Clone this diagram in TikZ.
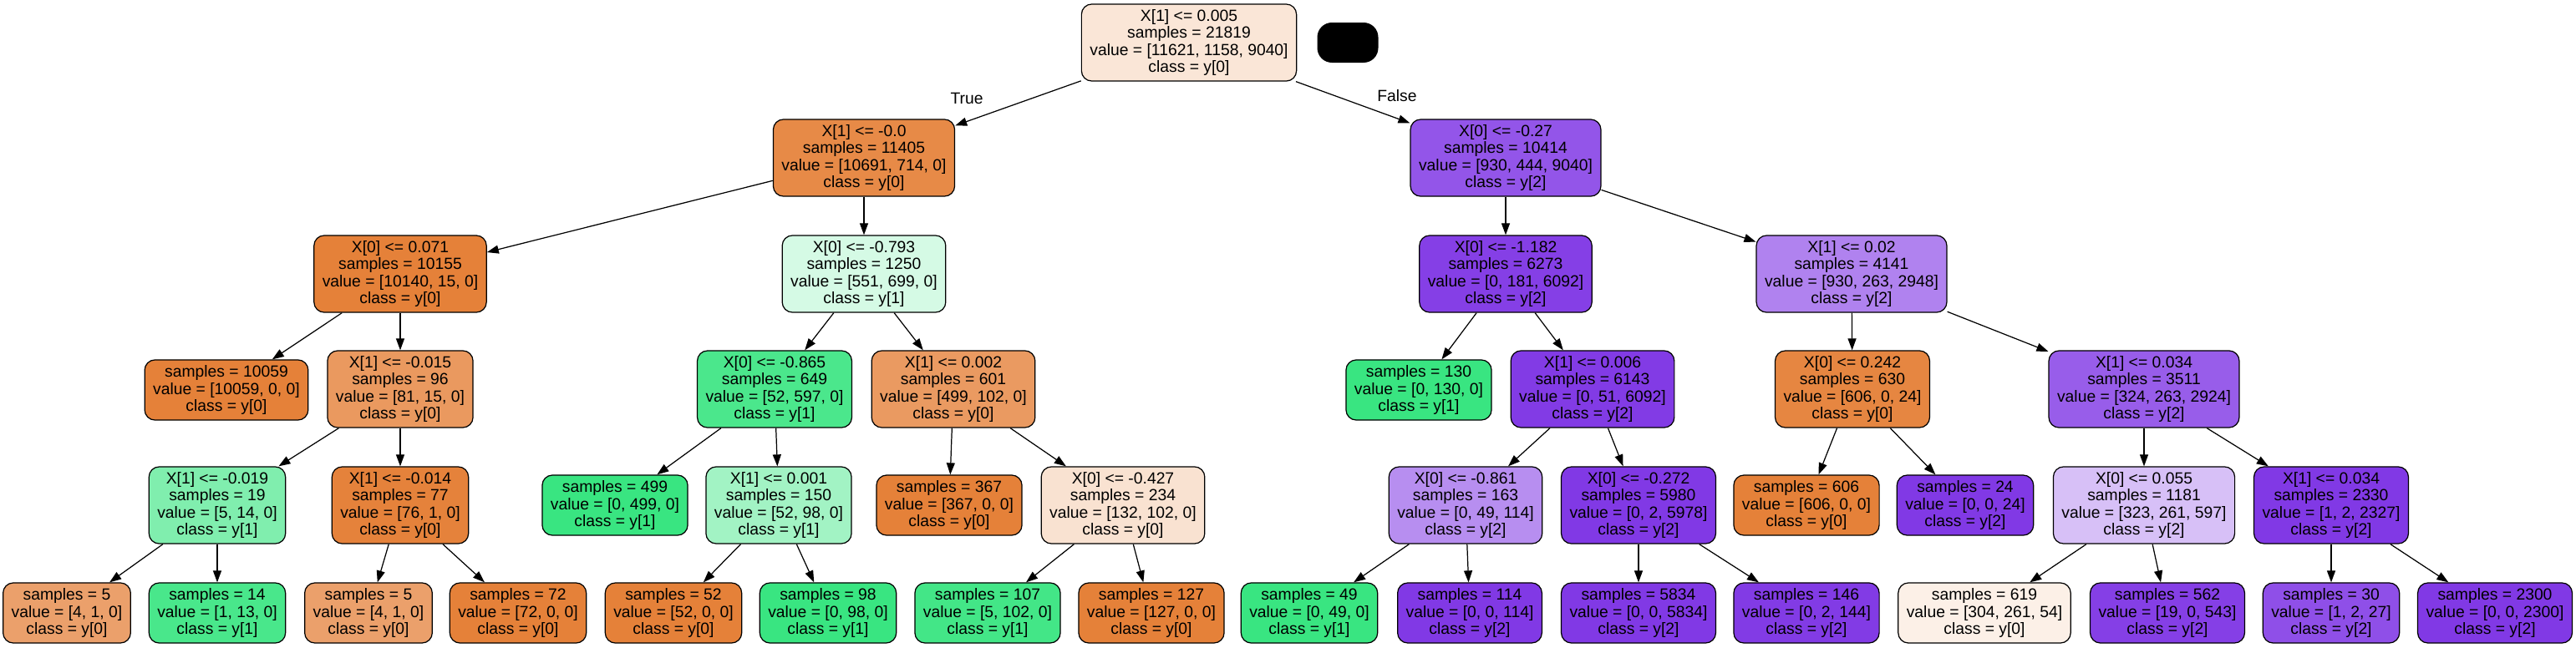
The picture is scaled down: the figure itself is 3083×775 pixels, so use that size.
\documentclass[tikz,border=0pt]{standalone}
\usepackage{fontspec}
\setmainfont{Liberation Sans}
\usepackage{xcolor}
\usetikzlibrary{arrows.meta}
\definecolor{cls0}{HTML}{E58139}
\definecolor{cls1}{HTML}{39E581}
\definecolor{cls2}{HTML}{8139E5}

\tikzset{
  tnode/.style={draw=black, line width=0.7pt, rounded corners=7pt, align=center,
    inner xsep=0.2cm, inner ysep=0.14cm, font=\fontsize{11}{11.4}\selectfont},
  branch/.style={-{Triangle[length=0.28cm,width=0.2cm]}, line width=0.7pt}
}

\begin{document}
\begin{tikzpicture}[x=0.02cm,y=-0.02cm]
  \useasboundingbox (0,0) rectangle (3083,775);
  % root
  \node[tnode, fill=cls0!20] (root) at (1423,51) {X[1] <= 0.005\\samples = 21819\\value = [11621, 1158, 9040]\\class = y[0]};
  \node[fill=black, rounded corners=10pt, minimum width=1.46cm, minimum height=0.96cm] (blank) at (1613,51) {};
  % level 1
  \node[tnode, fill=cls0!93] (t) at (1034,189) {X[1] <= -0.0\\samples = 11405\\value = [10691, 714, 0]\\class = y[0]};
  \node[tnode, fill=cls2!86] (f) at (1802,189) {X[0] <= -0.27\\samples = 10414\\value = [930, 444, 9040]\\class = y[2]};
  % level 2
  \node[tnode, fill=cls0] (tt) at (479,328) {X[0] <= 0.071\\samples = 10155\\value = [10140, 15, 0]\\class = y[0]};
  \node[tnode, fill=cls1!21] (tf) at (1034,328) {X[0] <= -0.793\\samples = 1250\\value = [551, 699, 0]\\class = y[1]};
  \node[tnode, fill=cls2!97] (ft) at (1802,328) {X[0] <= -1.182\\samples = 6273\\value = [0, 181, 6092]\\class = y[2]};
  \node[tnode, fill=cls2!63] (ff) at (2216,328) {X[1] <= 0.02\\samples = 4141\\value = [930, 263, 2948]\\class = y[2]};
  % level 3
  \node[tnode, fill=cls0] (ttt) at (271,467) {samples = 10059\\value = [10059, 0, 0]\\class = y[0]};
  \node[tnode, fill=cls0!81] (ttf) at (479,466) {X[1] <= -0.015\\samples = 96\\value = [81, 15, 0]\\class = y[0]};
  \node[tnode, fill=cls1!91] (tft) at (927,466) {X[0] <= -0.865\\samples = 649\\value = [52, 597, 0]\\class = y[1]};
  \node[tnode, fill=cls0!80] (tff) at (1141,466) {X[1] <= 0.002\\samples = 601\\value = [499, 102, 0]\\class = y[0]};
  \node[tnode, fill=cls1] (ftt) at (1698,467) {samples = 130\\value = [0, 130, 0]\\class = y[1]};
  \node[tnode, fill=cls2!99] (ftf) at (1906,466) {X[1] <= 0.006\\samples = 6143\\value = [0, 51, 6092]\\class = y[2]};
  \node[tnode, fill=cls0!96] (fft) at (2217,466) {X[0] <= 0.242\\samples = 630\\value = [606, 0, 24]\\class = y[0]};
  \node[tnode, fill=cls2!82] (fff) at (2566,466) {X[1] <= 0.034\\samples = 3511\\value = [324, 263, 2924]\\class = y[2]};
  % level 4
  \node[tnode, fill=cls1!64] (ttft) at (260,605) {X[1] <= -0.019\\samples = 19\\value = [5, 14, 0]\\class = y[1]};
  \node[tnode, fill=cls0!99] (ttff) at (479,605) {X[1] <= -0.014\\samples = 77\\value = [76, 1, 0]\\class = y[0]};
  \node[tnode, fill=cls1] (tftt) at (736,605) {samples = 499\\value = [0, 499, 0]\\class = y[1]};
  \node[tnode, fill=cls1!47] (tftf) at (932,605) {X[1] <= 0.001\\samples = 150\\value = [52, 98, 0]\\class = y[1]};
  \node[tnode, fill=cls0] (tfft) at (1136,605) {samples = 367\\value = [367, 0, 0]\\class = y[0]};
  \node[tnode, fill=cls0!23] (tfff) at (1344,605) {X[0] <= -0.427\\samples = 234\\value = [132, 102, 0]\\class = y[0]};
  \node[tnode, fill=cls2!57] (ftft) at (1754,605) {X[0] <= -0.861\\samples = 163\\value = [0, 49, 114]\\class = y[2]};
  \node[tnode, fill=cls2] (ftff) at (1961,605) {X[0] <= -0.272\\samples = 5980\\value = [0, 2, 5978]\\class = y[2]};
  \node[tnode, fill=cls0] (fftt) at (2162,605) {samples = 606\\value = [606, 0, 0]\\class = y[0]};
  \node[tnode, fill=cls2] (fftf) at (2352,605) {samples = 24\\value = [0, 0, 24]\\class = y[2]};
  \node[tnode, fill=cls2!32] (ffft) at (2566,605) {X[0] <= 0.055\\samples = 1181\\value = [323, 261, 597]\\class = y[2]};
  \node[tnode, fill=cls2] (ffff) at (2790,605) {X[1] <= 0.034\\samples = 2330\\value = [1, 2, 2327]\\class = y[2]};
  % level 5 (leaves)
  \node[tnode, fill=cls0!75] (ttftt) at (80,734) {samples = 5\\value = [4, 1, 0]\\class = y[0]};
  \node[tnode, fill=cls1!92] (ttftf) at (260,734) {samples = 14\\value = [1, 13, 0]\\class = y[1]};
  \node[tnode, fill=cls0!75] (ttfft) at (441,734) {samples = 5\\value = [4, 1, 0]\\class = y[0]};
  \node[tnode, fill=cls0] (ttfff) at (620,734) {samples = 72\\value = [72, 0, 0]\\class = y[0]};
  \node[tnode, fill=cls0] (tftft) at (806,734) {samples = 52\\value = [52, 0, 0]\\class = y[0]};
  \node[tnode, fill=cls1] (tftff) at (991,734) {samples = 98\\value = [0, 98, 0]\\class = y[1]};
  \node[tnode, fill=cls1!95] (tffft) at (1182,734) {samples = 107\\value = [5, 102, 0]\\class = y[1]};
  \node[tnode, fill=cls0] (tffff) at (1378,734) {samples = 127\\value = [127, 0, 0]\\class = y[0]};
  \node[tnode, fill=cls1] (ftftt) at (1567,734) {samples = 49\\value = [0, 49, 0]\\class = y[1]};
  \node[tnode, fill=cls2] (ftftf) at (1759,734) {samples = 114\\value = [0, 0, 114]\\class = y[2]};
  \node[tnode, fill=cls2] (ftfft) at (1961,734) {samples = 5834\\value = [0, 0, 5834]\\class = y[2]};
  \node[tnode, fill=cls2!99] (ftfff) at (2162,734) {samples = 146\\value = [0, 2, 144]\\class = y[2]};
  \node[tnode, fill=cls0!12] (ffftt) at (2375,734) {samples = 619\\value = [304, 261, 54]\\class = y[0]};
  \node[tnode, fill=cls2!97] (ffftf) at (2594,734) {samples = 562\\value = [19, 0, 543]\\class = y[2]};
  \node[tnode, fill=cls2!89] (fffft) at (2790,734) {samples = 30\\value = [1, 2, 27]\\class = y[2]};
  \node[tnode, fill=cls2] (fffff) at (2986,734) {samples = 2300\\value = [0, 0, 2300]\\class = y[2]};
  % branch labels
  \node[font=\fontsize{11}{11.4}\selectfont] (truelbl) at (1157,118) {True};
  \node[font=\fontsize{11}{11.4}\selectfont] (falselbl) at (1672,115) {False};
  % branches
  \foreach \a/\b in {root/t, root/f, t/tt, t/tf, f/ft, f/ff,
      tt/ttt, tt/ttf, tf/tft, tf/tff, ft/ftt, ft/ftf, ff/fft, ff/fff,
      ttf/ttft, ttf/ttff, tft/tftt, tft/tftf, tff/tfft, tff/tfff,
      ftf/ftft, ftf/ftff, fft/fftt, fft/fftf, fff/ffft, fff/ffff,
      ttft/ttftt, ttft/ttftf, ttff/ttfft, ttff/ttfff, tftf/tftft, tftf/tftff,
      tfff/tffft, tfff/tffff, ftft/ftftt, ftft/ftftf, ftff/ftfft, ftff/ftfff,
      ffft/ffftt, ffft/ffftf, ffff/fffft, ffff/fffff}
    \draw[branch] (\a) -- (\b);
\end{tikzpicture}
\end{document}
